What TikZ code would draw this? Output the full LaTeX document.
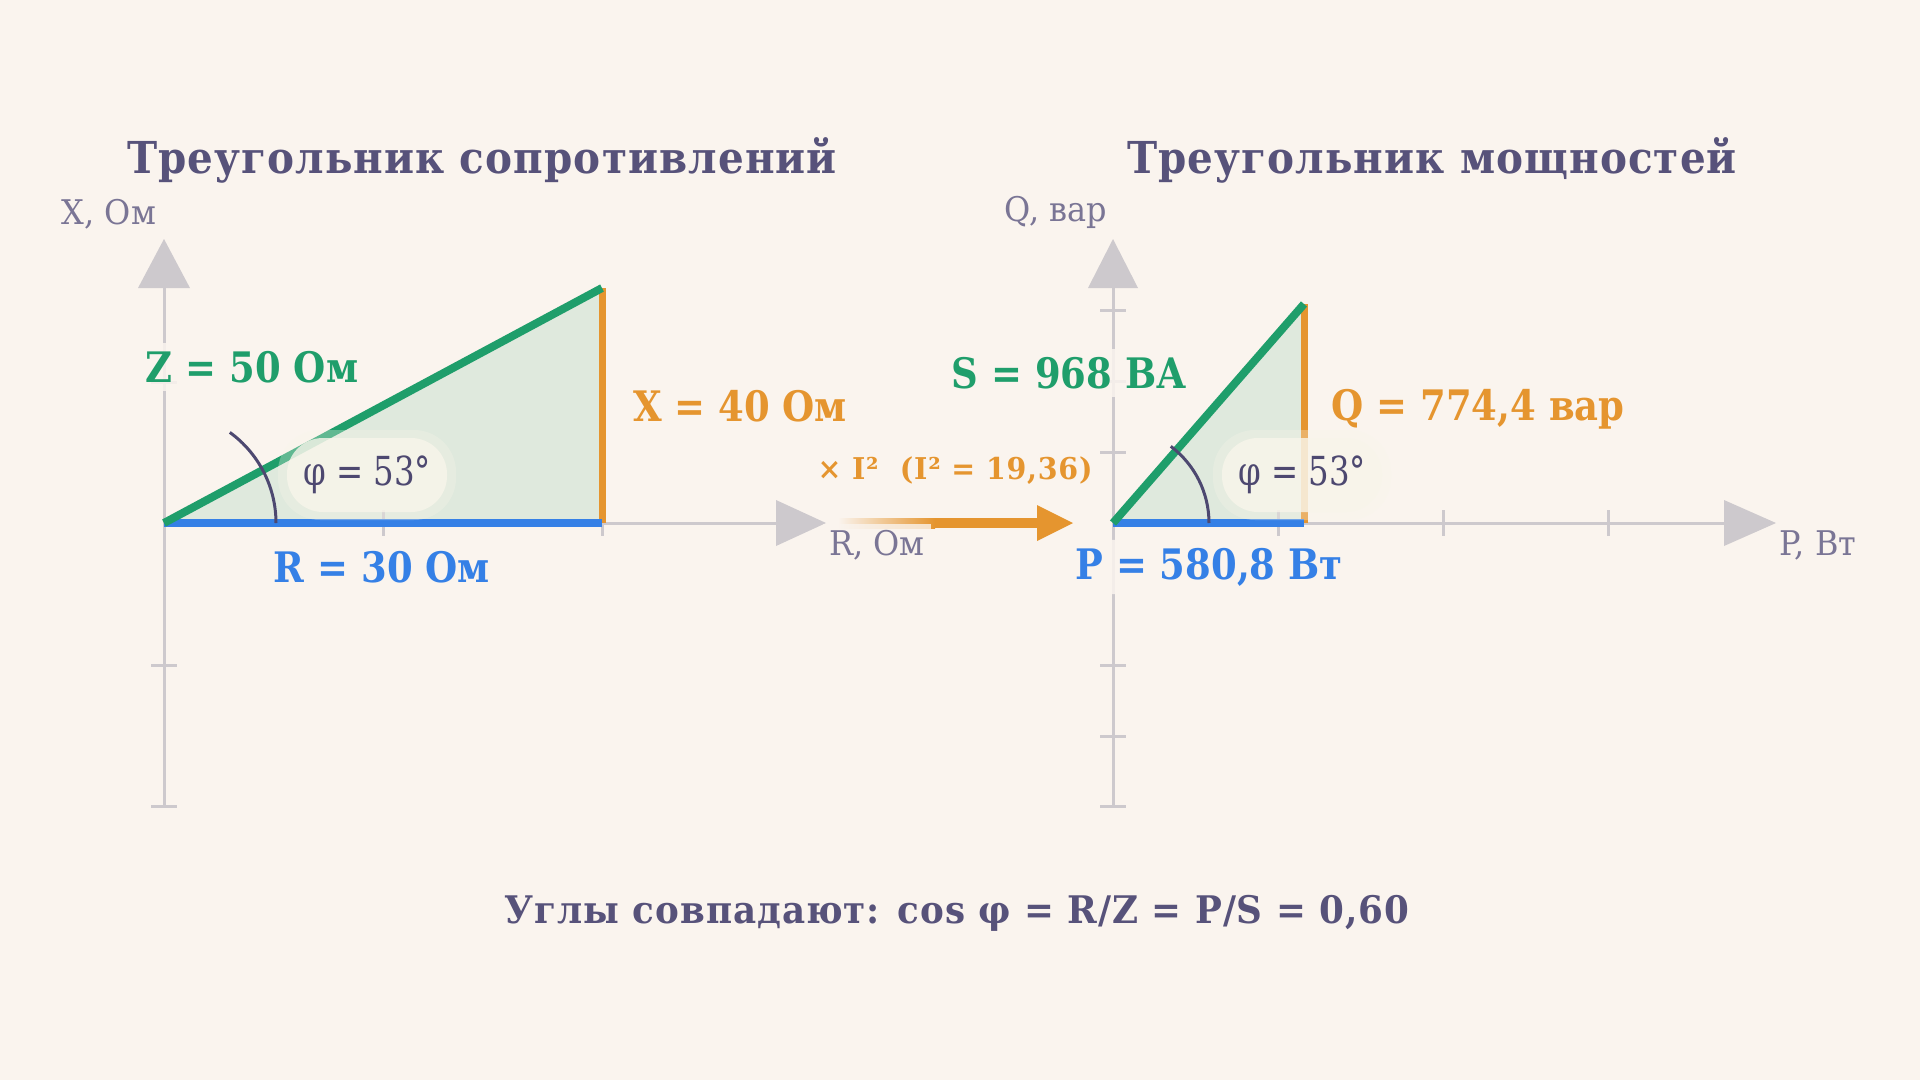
\documentclass[tikz,border=0pt]{standalone}
\usepackage{fontspec}
\setmainfont{DejaVu Serif}[FakeStretch=0.88]
\newfontfamily\bfnt{DejaVu Serif}[FakeStretch=0.88]
\newfontfamily\ttlfnt{DejaVu Serif}[FakeStretch=0.92, LetterSpace=2.5]
\newfontfamily\btmfnt{DejaVu Serif}[FakeStretch=0.94, LetterSpace=2.5]
\newfontfamily\arwfnt{DejaVu Serif}[FakeStretch=0.95, LetterSpace=2.5]
\newfontfamily\phfnt{DejaVu Serif}[FakeStretch=0.81]
\newfontfamily\axfnt{DejaVu Serif}[FakeStretch=0.94]
\definecolor{bgc}{HTML}{FAF4EE}
\definecolor{titlec}{HTML}{57527A}
\definecolor{axisc}{HTML}{CDC9CD}
\definecolor{axtxt}{HTML}{7A7595}
\definecolor{greenc}{HTML}{1F9E6B}
\definecolor{bluec}{HTML}{3580E6}
\definecolor{orangec}{HTML}{E5952F}
\definecolor{fillc}{HTML}{DFE9DD}
\definecolor{arcc}{HTML}{4D4870}
\definecolor{haloc}{HTML}{F8F5EA}
\tikzset{
  axisline/.style={draw=axisc, line width=3pt},
  tickmark/.style={draw=axisc, line width=3pt},
  axhead/.style={fill=axisc},
  side/.style={line width=8pt},
  lbl/.style={font=\bfnt\bfseries\fontsize{42}{48}\selectfont, fill=bgc, fill opacity=0.85, text opacity=1, rounded corners=10pt, inner sep=8pt},
  axlbl/.style={font=\axfnt\fontsize{34}{40}\selectfont, text=axtxt, fill=bgc, fill opacity=0.8, text opacity=1, inner sep=6pt},
  ttl/.style={font=\ttlfnt\bfseries\fontsize{44}{50}\selectfont, text=titlec},
  btm/.style={font=\btmfnt\bfseries\fontsize{38}{46}\selectfont, text=titlec},
  halo/.style={font=\phfnt\fontsize{40}{46}\selectfont, text=arcc, fill=haloc, fill opacity=0.8, text opacity=1, rounded corners=36pt, minimum width=160pt, minimum height=74pt, inner sep=0pt},
  halosoft/.style={fill=haloc, fill opacity=0.3, rounded corners=42pt, minimum width=178pt, minimum height=90pt, inner sep=0pt},
}
\begin{document}
\begin{tikzpicture}[x=1pt,y=-1pt]
\fill[bgc] (0,0) rectangle (1920,1080);
\useasboundingbox (0,0) rectangle (1920,1080);

% key points
\coordinate (LO) at (164,523);
\coordinate (LT) at (602,288);
\coordinate (LB) at (602,523);
\coordinate (RO) at (1113,523);
\coordinate (RT) at (1304,304);
\coordinate (RB) at (1304,523);

% triangle fills
\fill[fillc] (LO) -- (LT) -- (LB) -- cycle;
\fill[fillc] (RO) -- (RT) -- (RB) -- cycle;

% left axes
\coordinate (LYb) at (164,806);
\coordinate (LYa) at (164,288);
\coordinate (LXa) at (776,523);
\draw[axisline] (LYb) -- (LYa);
\fill[axhead] (138,288) -- (164,239) -- (190,288) -- cycle;
\draw[axisline] (LO) -- (LXa);
\fill[axhead] (776,500) -- (826,523) -- (776,546) -- cycle;
\foreach \yy in {382,665,806} \draw[tickmark] (151,\yy) -- (177,\yy);
\foreach \xx in {383,602} \draw[tickmark] (\xx,510) -- (\xx,536);

% right axes
\coordinate (RYb) at (1113,806);
\coordinate (RYa) at (1113,288);
\coordinate (RXa) at (1724,523);
\draw[axisline] (RYb) -- (RYa);
\fill[axhead] (1088,288) -- (1113,239) -- (1138,288) -- cycle;
\draw[axisline] (RO) -- (RXa);
\fill[axhead] (1724,500) -- (1776,523) -- (1724,546) -- cycle;
\foreach \yy in {310,381,452,665,736,806} \draw[tickmark] (1100,\yy) -- (1126,\yy);
\foreach \xx in {1278,1443,1608} \draw[tickmark] (\xx,510) -- (\xx,536);

% sides
\draw[side, orangec, line width=7pt] (LB) -- (LT);
\draw[side, bluec] (LO) -- (LB);
\draw[side, greenc] (LO) -- (LT);
\draw[side, orangec, line width=7pt] (RB) -- (RT);
\draw[side, bluec] (RO) -- (RB);
\draw[side, greenc] (RO) -- (RT);

% angle arcs
\draw[arcc, line width=3pt] ([xshift=112pt]LO) arc[start angle=0, end angle=-54, radius=112];
\draw[arcc, line width=3pt] ([xshift=96pt]RO) arc[start angle=0, end angle=-53, radius=96];

% transfer arrow
\coordinate (AS) at (838,523);
\coordinate (AM) at (935,523);
\coordinate (AH) at (1037,523);
\coordinate (AT) at (1073,523);
\shade[left color=bgc, right color=orangec] (838,518) rectangle (935,528);
\draw[orangec, line width=10pt] (AM) -- (AH);
\fill[orangec] (1037,505) -- (AT) -- (1037,541) -- cycle;

% titles
\node[ttl] (t1) at (482,160) {Треугольник сопротивлений};
\node[ttl] (t2) at (1432,160) {Треугольник мощностей};

% axis labels
\node[axlbl] (ax1) at (109,214) {X, Ом};
\node[axlbl] (ax2) at (877,545) {R, Ом};
\node[axlbl] (ax3) at (1056,212) {Q, вар};
\node[axlbl] (ax4) at (1818,545) {P, Вт};

% value labels
\node[lbl, text=greenc] (zl) at (252,367) {Z = 50 Ом};
\node[lbl, text=orangec] (xl) at (740,406) {X = 40 Ом};
\node[lbl, text=bluec] (rl) at (382,567) {R = 30 Ом};
\node[lbl, text=greenc] (sl) at (1069,373) {S = 968 ВА};
\node[lbl, text=orangec] (ql) at (1478,409) {Q = 774,4 вар};
\node[lbl, text=bluec] (pl) at (1209,567) {P = 580,8 Вт};

% angle labels
\node[halosoft] at (367,475) {};
\node[halo] (phl) at (367,475) {φ = 53°};
\node[halosoft] at (1302,475) {};
\node[halo] (phr) at (1302,475) {φ = 53°};

% arrow label
\node[font=\arwfnt\bfseries\fontsize{30}{36}\selectfont, text=orangec] (al) at (955,471) {× I²\ \ (I² = 19,36)};

% bottom
\node[btm] (bt) at (957,913) {Углы совпадают: cos φ = R/Z = P/S = 0,60};
\end{tikzpicture}
\end{document}
